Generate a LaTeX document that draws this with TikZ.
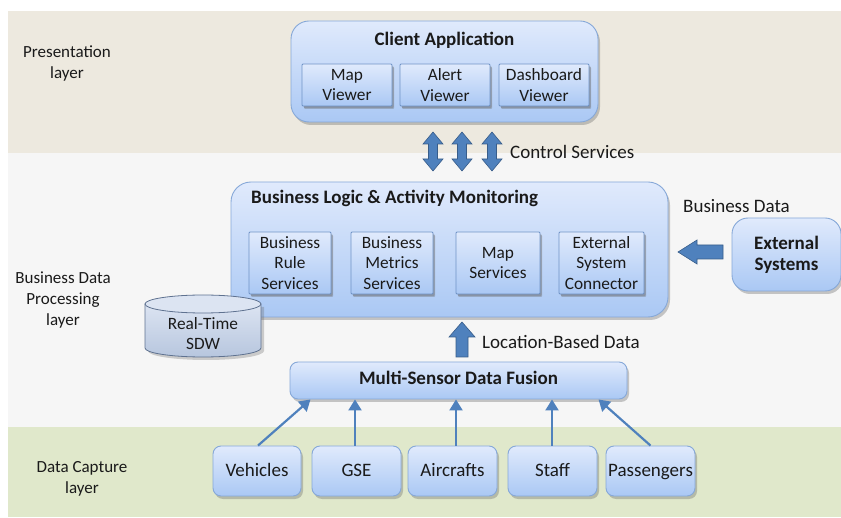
\documentclass[tikz,border=0pt]{standalone}
\usepackage{fontspec}
\setmainfont{Carlito}
\usetikzlibrary{shadows,arrows.meta}
\definecolor{bandA}{HTML}{EDE9DF}
\definecolor{bandB}{HTML}{F6F6F6}
\definecolor{bandC}{HTML}{E0E8CB}
\definecolor{boxtop}{HTML}{E0EAFC}
\definecolor{boxbot}{HTML}{AAC8F4}
\definecolor{boxline}{HTML}{86A8D8}
\definecolor{subline}{HTML}{6F93C6}
\definecolor{arrfill}{HTML}{4F81BD}
\definecolor{arrline}{HTML}{385D8A}
\definecolor{txt}{HTML}{1A1A1A}
\definecolor{cyltop}{HTML}{DCE4F2}
\definecolor{cylbot}{HTML}{B7C6DE}
\definecolor{cylline}{HTML}{5F7290}
\tikzset{
  basebox/.style={draw=boxline, line width=0.9pt, top color=boxtop, bottom color=boxbot,
    drop shadow={shadow xshift=2pt, shadow yshift=-3pt, opacity=0.35, fill=black!60},
    text=txt, align=center, inner sep=0pt, font=\fontsize{19}{21}\selectfont},
  bigbox/.style={basebox, rounded corners=18pt},
  subbox/.style={basebox, draw=subline, rounded corners=1pt, font=\fontsize{17.3}{20.5}\selectfont,
    drop shadow={shadow xshift=1.5pt, shadow yshift=-2pt, opacity=0.3, fill=black!60}},
  smallbox/.style={basebox, rounded corners=8pt},
  onebox/.style={smallbox, text height=13pt, text depth=4pt},
  srcbox/.style={smallbox, text height=13pt, text depth=1.5pt},
  lbl/.style={text=txt, align=center, inner sep=0pt, font=\fontsize{19}{21}\selectfont},
  layerlbl/.style={lbl, font=\fontsize{17}{21}\selectfont},
  ttl/.style={lbl, font=\fontsize{19}{21}\selectfont\bfseries},
  thin/.style={draw=arrfill, line width=2.2pt, -{Triangle[length=11pt,width=13pt]}},
  blockarrow/.style={fill=arrfill, draw=arrline, line width=0.6pt, line join=miter}
}
\begin{document}
\begin{tikzpicture}[x=1pt,y=-1pt]
\useasboundingbox (0,0) rectangle (841,518);
% bands
\fill[white] (0,0) rectangle (841,518);
\fill[bandA] (8,11) rectangle (841,153);
\fill[bandB] (8,153) rectangle (841,427);
\fill[bandC] (8,427) rectangle (841,517);
% layer labels
\node[layerlbl] (lp) at (67,63.5) {Presentation\\layer};
\node[layerlbl] (lb) at (63,300.5) {Business Data\\Processing\\layer};
\node[layerlbl] (ld) at (82,478.5) {Data Capture\\layer};
% client application
\node[bigbox, minimum width=307, minimum height=101] (client) at (444.5,71.5) {};
\node[ttl] (clientt) at (444.5,40.5) {Client Application};
\node[subbox, minimum width=90, minimum height=42] (mapv) at (347,85) {Map\\Viewer};
\node[subbox, minimum width=90, minimum height=42] (alertv) at (445,85) {Alert\\Viewer};
\node[subbox, minimum width=90, minimum height=42] (dashv) at (544,85) {Dashboard\\Viewer};
% control services double arrows
\foreach \xx/\nm in {433/da1,462/da2,492/da3}{
  \filldraw[blockarrow] (\xx,132) -- (\xx+10,144) -- (\xx+4.5,144) -- (\xx+4.5,159) -- (\xx+10,159)
     -- (\xx,171) -- (\xx-10,159) -- (\xx-4.5,159) -- (\xx-4.5,144) -- (\xx-10,144) -- cycle;
  \coordinate (\nm) at (\xx,151.5);
}
\node[lbl, anchor=west] (cs) at (510,152) {Control Services};
% business logic
\node[bigbox, rounded corners=20pt, minimum width=437, minimum height=135] (blam) at (449.5,249.5) {};
\node[ttl, anchor=west] (blamt) at (251,198.5) {Business Logic \& Activity Monitoring};
\node[subbox, minimum width=82, minimum height=62] (brs) at (290,263) {Business\\Rule\\Services};
\node[subbox, minimum width=82, minimum height=62] (bms) at (392,263) {Business\\Metrics\\Services};
\node[subbox, minimum width=84, minimum height=62] (ms) at (498,263) {Map\\Services};
\node[subbox, minimum width=85, minimum height=62] (esc) at (601.5,263) {External\\System\\Connector};
% cylinder
\fill[black!60, opacity=0.3] (148,307) -- (148,351) arc[start angle=180, end angle=0, x radius=58, y radius=9]
   -- (264,307) -- cycle;
\path[top color=cyltop, bottom color=cylbot, draw=cylline, line width=0.8pt]
   (145,304) -- (145,348) arc[start angle=180, end angle=0, x radius=58, y radius=9]
   -- (261,304) -- cycle;
\draw[cylline, line width=0.8pt, fill=cyltop] (203,304) ellipse[x radius=58, y radius=9];
\node[lbl, font=\fontsize{17.3}{20.5}\selectfont] (sdw) at (203,333.5) {Real-Time\\SDW};
% external systems
\node[bigbox, rounded corners=16pt, minimum width=109, minimum height=73] (ext) at (786.5,254.5)
  {\bfseries External\\\bfseries Systems};
\node[lbl, anchor=west] (bd) at (683,206) {Business Data};
\filldraw[blockarrow] (678,252) -- (697,240) -- (697,245) -- (723,245) -- (723,259) -- (697,259) -- (697,264) -- cycle;
% location-based data
\filldraw[blockarrow] (462,322) -- (475,337) -- (468,337) -- (468,357) -- (456,357) -- (456,337) -- (449,337) -- cycle;
\node[lbl, anchor=west] (lbd) at (482,342) {Location-Based\ Data};
% multi-sensor
\node[onebox, minimum width=337, minimum height=37] (msdf) at (458.5,380.5) {\bfseries Multi-Sensor\ Data\ Fusion};
% bottom boxes
\node[srcbox, minimum width=88, minimum height=50] (veh) at (257,471) {Vehicles};
\node[srcbox, minimum width=89, minimum height=50] (gse) at (356.5,471) {GSE};
\node[srcbox, minimum width=89, minimum height=50] (air) at (452.5,471) {Aircrafts};
\node[srcbox, minimum width=89, minimum height=50] (staff) at (552.5,471) {Staff};
\node[srcbox, minimum width=89, minimum height=50] (pass) at (650.5,471) {Passengers};
% thin arrows
\draw[thin] ([xshift=1pt]veh.north) -- ([xshift=-148pt]msdf.south);
\draw[thin] ([xshift=-1.5pt]gse.north) -- ([xshift=-103.5pt]msdf.south);
\draw[thin] ([xshift=3.5pt]air.north) -- ([xshift=-2.5pt]msdf.south);
\draw[thin] ([xshift=-0.5pt]staff.north) -- ([xshift=93.5pt]msdf.south);
\draw[thin] (pass.north) -- ([xshift=140pt]msdf.south);
\end{tikzpicture}
\end{document}
